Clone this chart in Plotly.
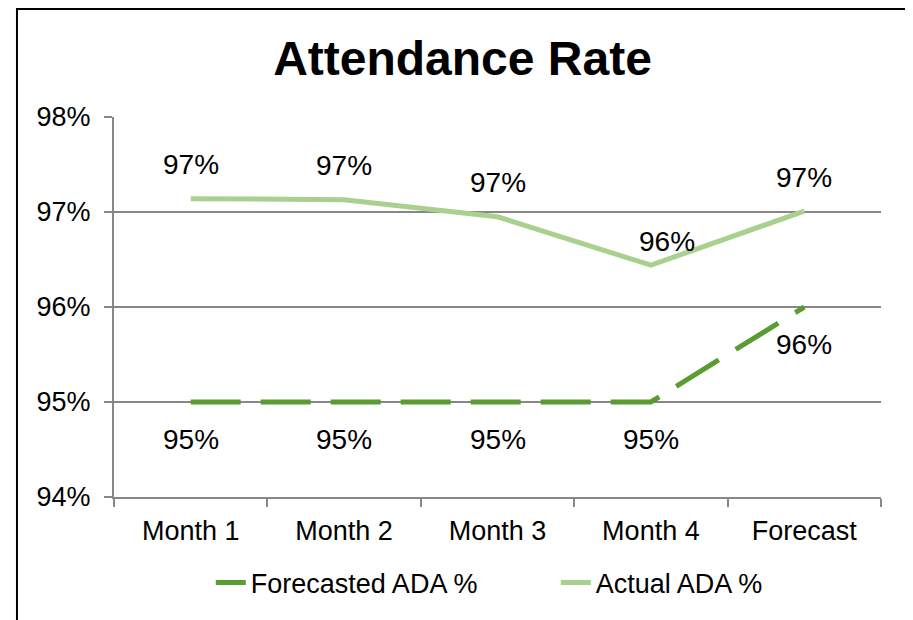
import plotly.graph_objects as go

# Chart data
categories = ["Month 1", "Month 2", "Month 3", "Month 4", "Forecast"]
forecasted_ada = [95.0, 95.0, 95.0, 95.0, 96.0]
actual_ada = [97.14, 97.13, 96.95, 96.44, 97.01]
y_ticks = [94, 95, 96, 97, 98]

FONT = "Liberation Sans, Arial, sans-serif"
FORECAST_COLOR = "#5a9b32"
ACTUAL_COLOR = "#a9d08e"
GRID_COLOR = "#878787"

# the page body adds an 8px offset, so the figure is 8px smaller each way
W, H = 905, 612

fig = go.Figure()

fig.add_trace(
    go.Scatter(
        x=categories,
        y=forecasted_ada,
        mode="lines",
        line=dict(color=FORECAST_COLOR, width=5, dash="50px,20px"),
        name="Forecasted ADA %"
    )
)

fig.add_trace(
    go.Scatter(
        x=categories,
        y=actual_ada,
        mode="lines",
        line=dict(color=ACTUAL_COLOR, width=5),
        name="Actual ADA %"
    )
)

# Data labels: actual above the line, forecast below
actual_shift = [(0, 34), (0, 34), (0, 34), (16, 24), (0, 34)]
for cat, val, (dx, dy) in zip(categories, actual_ada, actual_shift):
    fig.add_annotation(
        x=cat, y=val, text=f"{round(val)}%", showarrow=False,
        xshift=dx, yshift=dy, font=dict(size=28, color="black", family=FONT)
    )

for cat, val in zip(categories, forecasted_ada):
    fig.add_annotation(
        x=cat, y=val, text=f"{round(val)}%", showarrow=False,
        yshift=-37, font=dict(size=28, color="black", family=FONT)
    )

# Outer chart frame
fig.add_shape(
    type="rect", xref="paper", yref="paper",
    x0=-0.1265, x1=1.0365, y0=-0.5, y1=1.2842,
    line=dict(color="black", width=2), fillcolor="rgba(0,0,0,0)", layer="above"
)

fig.update_layout(
    width=W,
    height=H,
    margin=dict(l=106, r=32, t=109, b=123),
    plot_bgcolor="white",
    paper_bgcolor="white",
    font=dict(family=FONT, size=27, color="black"),
    title=dict(
        text="<b>Attendance Rate</b>",
        x=454.5 / W, xanchor="center",
        y=1 - 50 / H, yanchor="middle",
        font=dict(size=48, family=FONT, color="black")
    ),
    showlegend=True,
    legend=dict(
        orientation="h",
        x=0.576, xanchor="center",
        y=-0.226, yanchor="middle",
        font=dict(size=27, family=FONT, color="black"),
        entrywidth=300,
        entrywidthmode="pixels",
        traceorder="normal"
    ),
    xaxis=dict(
        type="category",
        range=[-0.5, 4.5],
        showgrid=False,
        showline=True,
        linecolor=GRID_COLOR,
        linewidth=2,
        ticks="outside",
        tickson="boundaries",
        ticklen=8,
        tickwidth=2,
        tickcolor=GRID_COLOR,
        ticklabelstandoff=9,
        tickfont=dict(size=27, family=FONT, color="black"),
        fixedrange=True
    ),
    yaxis=dict(
        range=[94, 98],
        tickvals=y_ticks,
        ticktext=[f"{t}%" for t in y_ticks],
        showgrid=True,
        gridcolor=GRID_COLOR,
        gridwidth=2,
        showline=True,
        linecolor=GRID_COLOR,
        linewidth=2,
        ticks="outside",
        ticklen=8,
        tickwidth=2,
        tickcolor=GRID_COLOR,
        ticklabelstandoff=8,
        tickfont=dict(size=27, family=FONT, color="black"),
        zeroline=False,
        fixedrange=True
    )
)

fig.write_html("out.html")
